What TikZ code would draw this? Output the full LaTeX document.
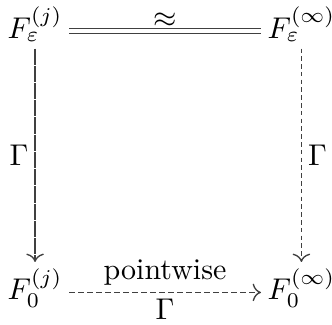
\documentclass[tikz,border=0pt]{standalone}
\usetikzlibrary{cd}
\begin{document}
\begin{tikzpicture}[x=1pt,y=1pt,>={cm to},
  obj/.style={inner sep=2pt, anchor=base},
  arr/.style={line width=0.45pt, draw=black!75},
  solidish/.style={arr, dash pattern=on 5.4pt off 0.35pt},
  vdash/.style={arr, dash pattern=on 1.5pt off 1.1pt},
  hdash/.style={arr, dash pattern=on 2pt off 1pt},
  lab/.style={inner sep=2pt},
  eqlab/.style={inner sep=0.8pt}]
\useasboundingbox (0,0) rectangle (110.7,108.3);
\node[obj] (tl) at (11.7,95.5) {$F_\varepsilon^{(j)}$};
\node[obj] (tr) at (100.5,95.5) {$F_\varepsilon^{(\infty)}$};
\node[obj] (bl) at (11.7,8.3) {$F_0^{(j)}$};
\node[obj] (br) at (100.5,8.3) {$F_0^{(\infty)}$};
\draw[arr, double, double distance=1.1pt] ([yshift=2.5pt]tl.base east) -- ([yshift=2.5pt]tr.base west)
  node[midway, above, eqlab] (eq) {$\approx$};
\draw[solidish,->] (tl.south) -- (bl.north) node[midway, left, lab] (g1) {$\Gamma$};
\draw[vdash,->] (tr.south) -- (br.north) node[midway, right, lab] (g2) {$\Gamma$};
\draw[hdash,->] ([yshift=2.5pt]bl.base east) -- ([yshift=2.5pt]br.base west)
  node[midway, above, lab] (pw) {pointwise}
  node[midway, below, lab] (g3) {$\Gamma$};
\end{tikzpicture}
\end{document}
